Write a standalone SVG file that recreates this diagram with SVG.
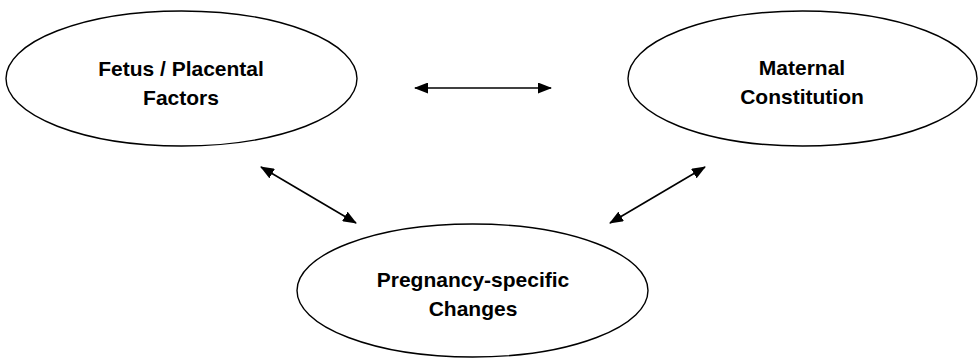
<svg xmlns="http://www.w3.org/2000/svg" width="979" height="358" viewBox="0 0 979 358">
<style>
.node ellipse{fill:#fff;stroke:#000;stroke-width:1.4}
.node text{font-family:"Liberation Sans",Arial,sans-serif;font-weight:bold;font-size:21px;fill:#000;text-anchor:middle}
.conn line{stroke:#000;stroke-width:1.6;marker-start:url(#ah);marker-end:url(#ah)}
</style>
<defs>
<marker id="ah" viewBox="0 0 14 11" refX="13" refY="5.5" markerWidth="14" markerHeight="11" markerUnits="userSpaceOnUse" orient="auto-start-reverse">
<path d="M0,0 L14,5.5 L0,11 Z" fill="#000"/>
</marker>
</defs>
<rect width="979" height="358" fill="#fff"/>
<g id="fetus" class="node">
<ellipse cx="181.5" cy="78.5" rx="175.5" ry="67.5"/>
<text x="181" y="76">Fetus / Placental</text>
<text x="181" y="105">Factors</text>
</g>
<g id="maternal" class="node">
<ellipse cx="802.5" cy="78.5" rx="174.5" ry="67.5"/>
<text x="802" y="75">Maternal</text>
<text x="802" y="104">Constitution</text>
</g>
<g id="pregnancy" class="node">
<ellipse cx="472.5" cy="290.5" rx="175.5" ry="66.5"/>
<text x="473" y="287">Pregnancy-specific</text>
<text x="473" y="316">Changes</text>
</g>
<g id="connectors" class="conn">
<line x1="415" y1="88" x2="551" y2="88"/>
<line x1="261" y1="167" x2="356" y2="223"/>
<line x1="610" y1="223" x2="705" y2="167"/>
</g>
</svg>
